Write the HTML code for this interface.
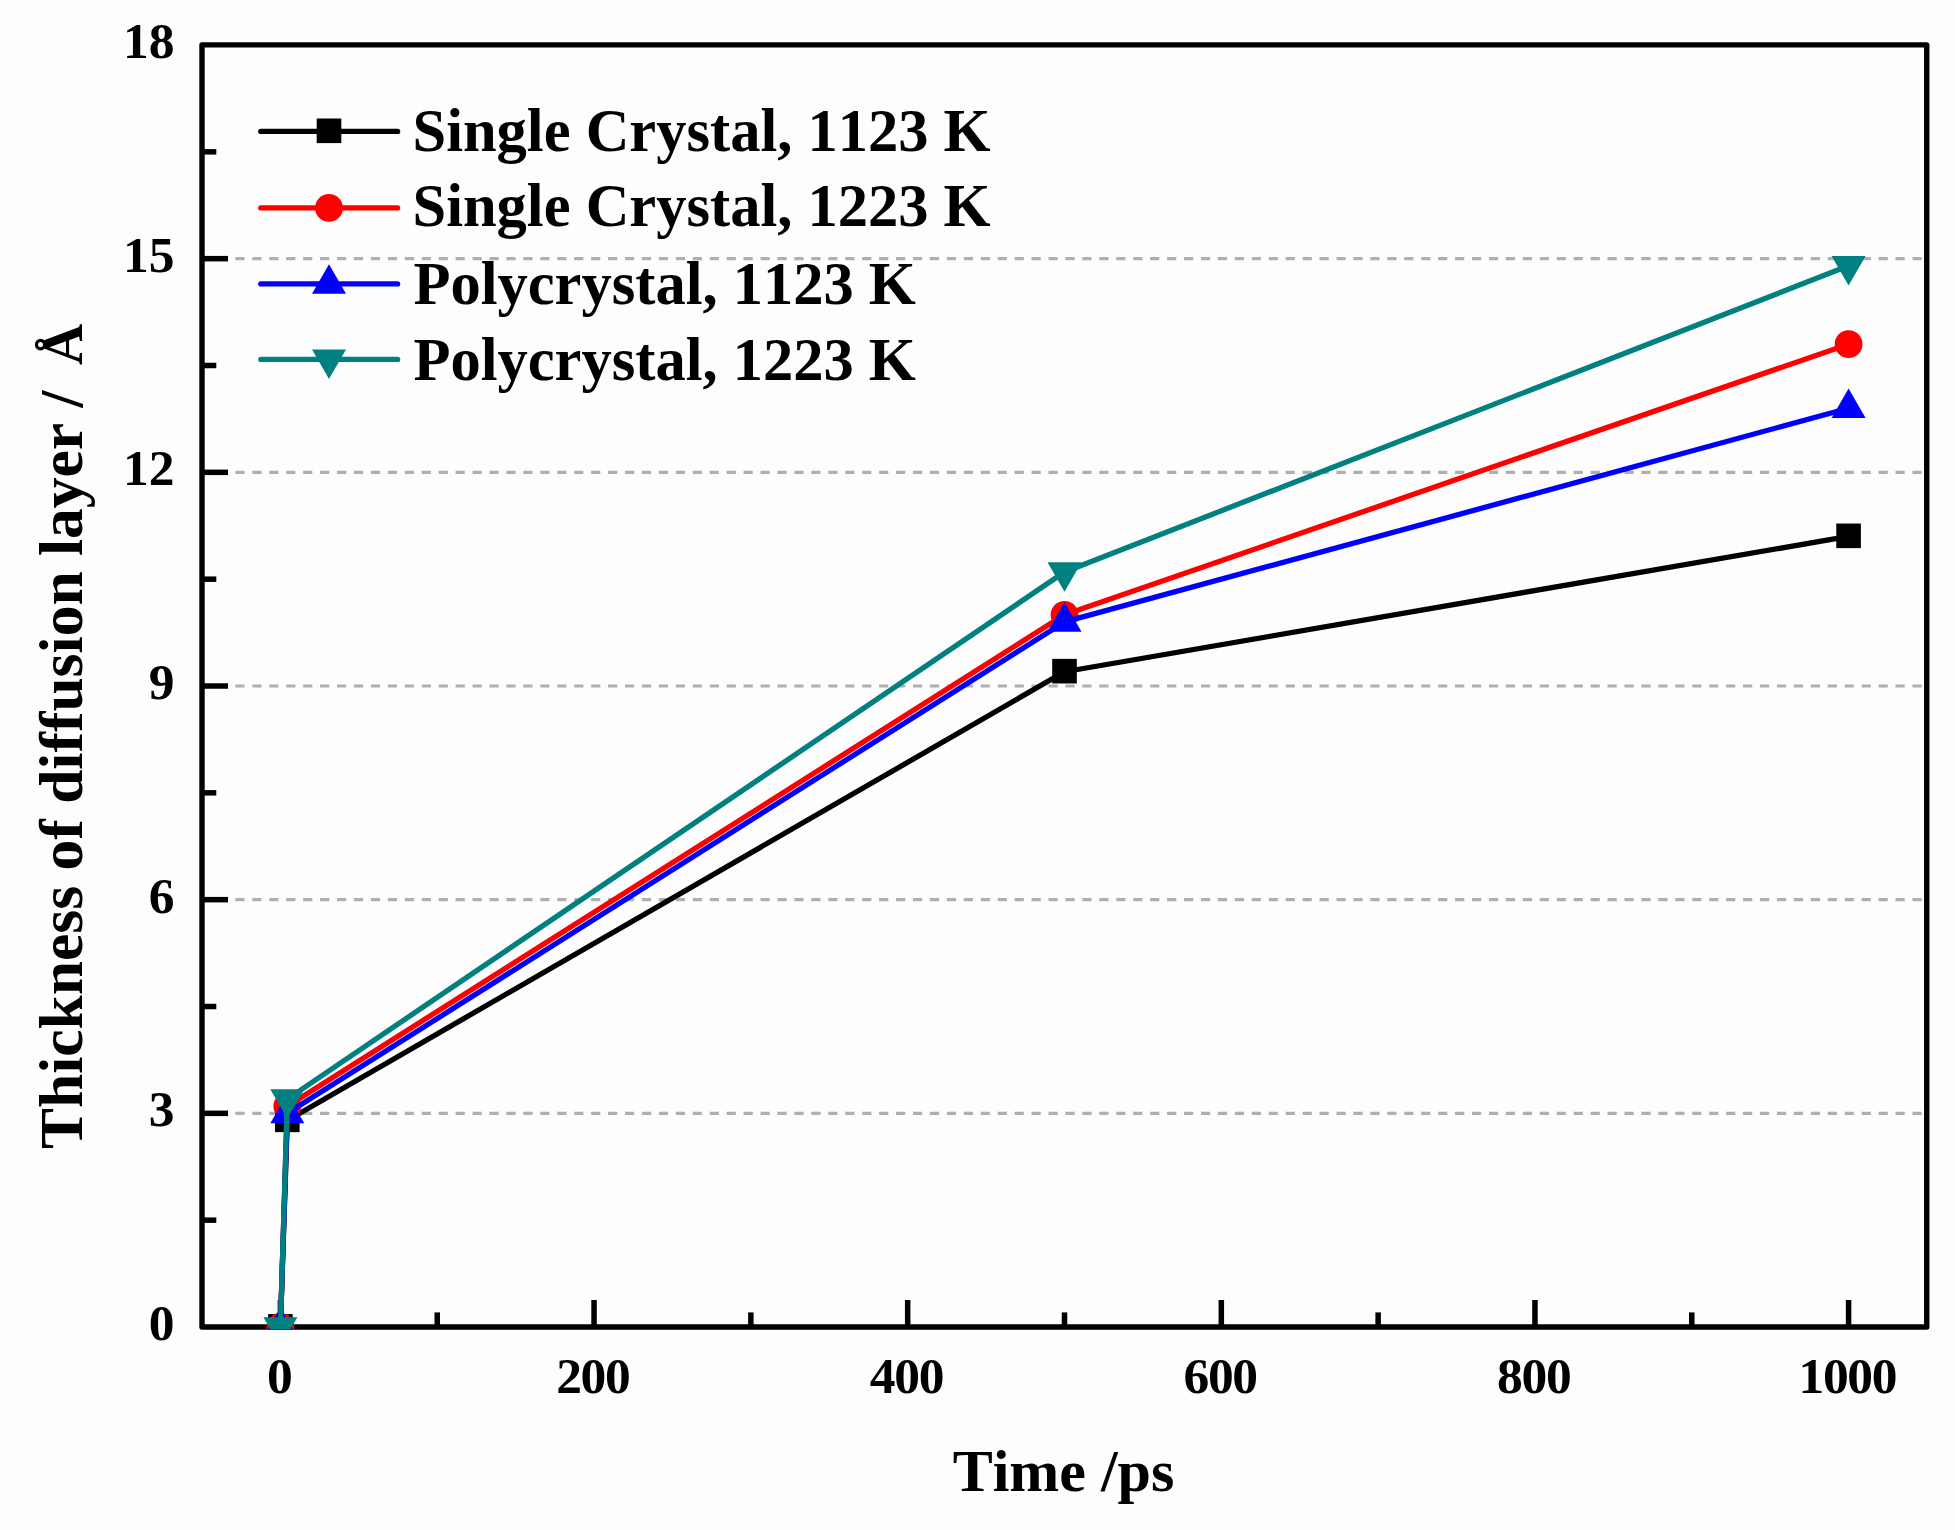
<!DOCTYPE html>
<html lang="en">
<head>
<meta charset="utf-8">
<title>Thickness of diffusion layer vs time</title>
<style>
html,body{margin:0;padding:0;background:#fdfdfd;}
body{width:1955px;height:1530px;overflow:hidden;}
svg{display:block;filter:blur(0.55px);}
text{font-kerning:none;font-family:"Liberation Serif","Times New Roman",Times,serif;font-weight:bold;fill:#000;}
.tick{font-size:51.5px;letter-spacing:-1.3px;}
.ytick{font-size:51.5px;}
.leg{font-size:60.5px;}
.ttl{font-size:60px;}
</style>
</head>
<body>
<svg width="1955" height="1530" viewBox="0 0 1955 1530">
<rect x="0" y="0" width="1955" height="1530" fill="#fdfdfd"/>
<defs><clipPath id="plot"><rect x="202" y="45" width="1725" height="1284.2"/></clipPath></defs>

<g stroke="#b0afaf" stroke-width="3.1" stroke-dasharray="9.2 7.74" fill="none">
<path d="M201.50 1113.33H1927.00"/>
<path d="M201.50 899.67H1927.00"/>
<path d="M201.50 686.00H1927.00"/>
<path d="M201.50 472.33H1927.00"/>
<path d="M201.50 258.67H1927.00"/>
</g>
<g stroke="#000" stroke-width="5.5" fill="none">
<path d="M202.00 1113.33H228"/>
<path d="M202.00 899.67H228"/>
<path d="M202.00 686.00H228"/>
<path d="M202.00 472.33H228"/>
<path d="M202.00 258.67H228"/>
<path d="M202.00 1220.17H216.3"/>
<path d="M202.00 1006.50H216.3"/>
<path d="M202.00 792.83H216.3"/>
<path d="M202.00 579.17H216.3"/>
<path d="M202.00 365.50H216.3"/>
<path d="M202.00 151.83H216.3"/>
<path d="M280.41 1327.00V1300"/>
<path d="M594.05 1327.00V1300"/>
<path d="M907.68 1327.00V1300"/>
<path d="M1221.32 1327.00V1300"/>
<path d="M1534.95 1327.00V1300"/>
<path d="M1848.59 1327.00V1300"/>
<path d="M437.23 1327.00V1312.4"/>
<path d="M750.86 1327.00V1312.4"/>
<path d="M1064.50 1327.00V1312.4"/>
<path d="M1378.14 1327.00V1312.4"/>
<path d="M1691.77 1327.00V1312.4"/>
</g>
<rect x="202" y="44.9" width="1724.75" height="1282.1" fill="none" stroke="#000" stroke-width="5.4" stroke-linejoin="round"/>
<g clip-path="url(#plot)">
<polyline points="280.41,1327.00 287.31,1120.46 1064.50,671.76 1848.59,536.43" fill="none" stroke="#000000" stroke-width="5.3" stroke-linejoin="round"/>
<rect x="268.11" y="1314.10" width="24.6" height="24.6" fill="#000000"/>
<rect x="275.01" y="1107.56" width="24.6" height="24.6" fill="#000000"/>
<rect x="1052.20" y="658.86" width="24.6" height="24.6" fill="#000000"/>
<rect x="1836.29" y="523.53" width="24.6" height="24.6" fill="#000000"/>
<polyline points="280.41,1327.00 287.31,1106.21 1064.50,614.78 1848.59,344.13" fill="none" stroke="#ff0000" stroke-width="5.3" stroke-linejoin="round"/>
<circle cx="280.41" cy="1327.00" r="13.9" fill="#ff0000"/>
<circle cx="287.31" cy="1106.21" r="13.9" fill="#ff0000"/>
<circle cx="1064.50" cy="614.78" r="13.9" fill="#ff0000"/>
<circle cx="1848.59" cy="344.13" r="13.9" fill="#ff0000"/>
<polyline points="280.41,1327.00 287.31,1113.33 1064.50,621.90 1848.59,408.23" fill="none" stroke="#0000ff" stroke-width="5.3" stroke-linejoin="round"/>
<polygon points="280.41,1307.37 263.41,1336.81 297.41,1336.81" fill="#0000ff"/>
<polygon points="287.31,1093.70 270.31,1123.15 304.31,1123.15" fill="#0000ff"/>
<polygon points="1064.50,602.27 1047.50,631.71 1081.50,631.71" fill="#0000ff"/>
<polygon points="1848.59,388.60 1831.59,418.05 1865.59,418.05" fill="#0000ff"/>
<polyline points="280.41,1327.00 287.31,1099.09 1064.50,572.04 1848.59,265.79" fill="none" stroke="#008080" stroke-width="5.3" stroke-linejoin="round"/>
<polygon points="280.41,1346.63 263.41,1317.19 297.41,1317.19" fill="#008080"/>
<polygon points="287.31,1118.72 270.31,1089.27 304.31,1089.27" fill="#008080"/>
<polygon points="1064.50,591.67 1047.50,562.23 1081.50,562.23" fill="#008080"/>
<polygon points="1848.59,285.42 1831.59,255.97 1865.59,255.97" fill="#008080"/>
</g>
<path d="M260.8 131.40H397.6" stroke="#000000" stroke-width="5.3" stroke-linecap="round" fill="none"/>
<rect x="316.70" y="118.50" width="24.6" height="24.6" fill="#000000"/>
<text class="leg" x="412.5" y="151.00">Single Crystal, 1123 K</text>
<path d="M260.8 207.90H397.6" stroke="#ff0000" stroke-width="5.3" stroke-linecap="round" fill="none"/>
<circle cx="329.00" cy="207.90" r="13.9" fill="#ff0000"/>
<text class="leg" x="412.5" y="225.90">Single Crystal, 1223 K</text>
<path d="M260.8 283.90H397.6" stroke="#0000ff" stroke-width="5.3" stroke-linecap="round" fill="none"/>
<polygon points="329.00,264.27 312.00,293.71 346.00,293.71" fill="#0000ff"/>
<text class="leg" x="413.5" y="304.10">Polycrystal, 1123 K</text>
<path d="M260.8 359.40H397.6" stroke="#008080" stroke-width="5.3" stroke-linecap="round" fill="none"/>
<polygon points="329.00,379.03 312.00,349.59 346.00,349.59" fill="#008080"/>
<text class="leg" x="413.5" y="379.90">Polycrystal, 1223 K</text>
<text class="ytick" x="174.6" y="1340.10" text-anchor="end">0</text>
<text class="ytick" x="174.6" y="1126.43" text-anchor="end">3</text>
<text class="ytick" x="174.6" y="912.77" text-anchor="end">6</text>
<text class="ytick" x="174.6" y="699.10" text-anchor="end">9</text>
<text class="ytick" x="174.6" y="485.43" text-anchor="end">12</text>
<text class="ytick" x="174.6" y="271.77" text-anchor="end">15</text>
<text class="ytick" x="174.6" y="58.10" text-anchor="end">18</text>
<text class="tick" x="279.21" y="1392.8" text-anchor="middle">0</text>
<text class="tick" x="592.85" y="1392.8" text-anchor="middle">200</text>
<text class="tick" x="906.48" y="1392.8" text-anchor="middle">400</text>
<text class="tick" x="1220.12" y="1392.8" text-anchor="middle">600</text>
<text class="tick" x="1533.75" y="1392.8" text-anchor="middle">800</text>
<text class="tick" x="1847.39" y="1392.8" text-anchor="middle">1000</text>
<text class="ttl" x="1063.5" y="1491" text-anchor="middle">Time /ps</text>
<text class="ttl" style="font-size:61.5px" transform="translate(81.8 1149.0) rotate(-90)" x="0" y="0">Thickness of diffusion layer <tspan x="741.2">/</tspan> <tspan x="784" style="font-size:57px">Å</tspan></text>
</svg>
</body>
</html>
